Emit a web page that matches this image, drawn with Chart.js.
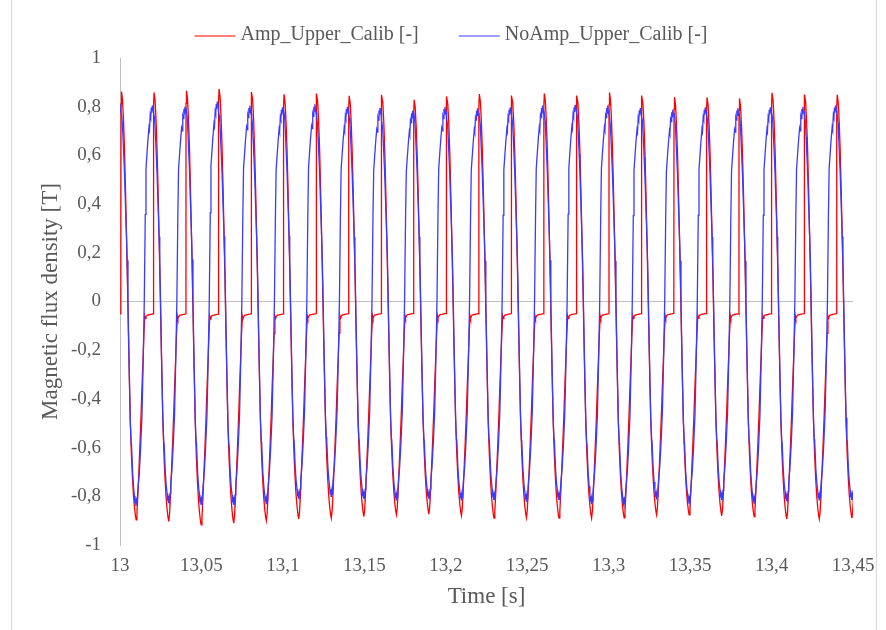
<!DOCTYPE html>
<html>
<head>
<meta charset="utf-8">
<title>Magnetic flux density</title>
<script src="https://cdn.jsdelivr.net/npm/chart.js@4.4.1/dist/chart.umd.min.js"></script>
<style>
  html, body { margin: 0; padding: 0; background: #ffffff; }
  #wrap { width: 886px; height: 630px; }
</style>
</head>
<body>
<div id="wrap"><canvas id="fluxChart" width="886" height="630"></canvas></div>
<script>
// switch-on instant of each 50 Hz cycle (s)
const cycleStart = [13.0006, 13.0206, 13.0405, 13.0605, 13.0805, 13.1004, 13.1204, 13.1404,
  13.1604, 13.1803, 13.2003, 13.2203, 13.2402, 13.2602, 13.2802, 13.3002, 13.3201, 13.3401,
  13.3601, 13.3800, 13.4000, 13.4200, 13.4400];

// peak / trough reached in each cycle (T)
const ampPeak = [0.862, 0.858, 0.865, 0.873, 0.860, 0.851, 0.854, 0.845, 0.849, 0.828, 0.842, 0.852,
  0.846, 0.854, 0.846, 0.858, 0.846, 0.839, 0.838, 0.834, 0.857, 0.850, 0.849];
const ampTrough = [-0.897, -0.903, -0.917, -0.910, -0.900, -0.893, -0.890, -0.883, -0.876, -0.873, -0.880, -0.890,
  -0.888, -0.890, -0.890, -0.888, -0.876, -0.876, -0.880, -0.883, -0.893, -0.893, -0.890];
const noAmpPeak = [0.805, 0.800, 0.821, 0.805, 0.797, 0.810, 0.800, 0.794, 0.783, 0.800, 0.794, 0.797,
  0.805, 0.808, 0.805, 0.794, 0.787, 0.797, 0.794, 0.797, 0.800, 0.805, 0.800];
const noAmpTrough = [-0.840, -0.828, -0.835, -0.835, -0.830, -0.810, -0.800, -0.810, -0.815, -0.810, -0.815, -0.815,
  -0.820, -0.815, -0.830, -0.835, -0.810, -0.830, -0.815, -0.830, -0.820, -0.815, -0.815];

// one cycle of each trace: time after switch-on (ms) and value (T)
const ampShapeMs = [0, 0.02, 0.31, 0.92, 1.53, 2.15, 2.76, 3.38, 3.99, 4.60, 5.22, 5.83, 6.45, 7.06, 7.67,
  8.29, 8.90, 9.33, 9.82, 10.44, 11.05, 11.66, 12.28, 12.89, 13.51, 14.12, 14.61, 14.92, 15.35, 15.96,
  17.19, 18.42, 19.89];
const ampShapeVal = [-0.050, 0.800, 0.850, 0.820, 0.740, 0.620, 0.460, 0.270, 0.070, -0.140, -0.340, -0.510,
  -0.630, -0.720, -0.790, -0.840, -0.875, -0.890, -0.860, -0.780, -0.680, -0.580, -0.470, -0.350, -0.240,
  -0.130, -0.060, -0.070, -0.062, -0.056, -0.054, -0.052, -0.050];

const noAmpShapeMs = [0, 0.37, 0.80, 1.23, 1.66, 2.15, 2.76, 3.38, 3.81, 4.30, 4.91, 5.71, 6.26, 6.51, 7.18,
  7.80, 8.29, 8.60, 8.90, 9.21, 9.51, 9.82, 10.13, 10.56, 11.23, 11.97, 12.89, 13.69, 14.30, 14.92, 15.35,
  15.96, 16.58, 17.19, 17.50, 17.93, 18.29, 18.60, 18.91, 19.22, 19.52, 19.89];
const noAmpShapeVal = [0.785, 0.770, 0.740, 0.680, 0.610, 0.530, 0.400, 0.270, 0.170, 0.000, -0.220, -0.480,
  -0.570, -0.580, -0.690, -0.750, -0.780, -0.810, -0.790, -0.820, -0.800, -0.810, -0.780, -0.740, -0.690,
  -0.600, -0.460, -0.220, 0.000, 0.360, 0.550, 0.610, 0.670, 0.720, 0.710, 0.770, 0.760, 0.800, 0.780,
  0.810, 0.790, 0.790];

// samples just before the first switch-on
const leadTime = [13.0, 13.0004];
const leadAmp = [-0.050, -0.050];
const leadNoAmp = [0.780, 0.810];

const seriesNames = ['Amp_Upper_Calib [-]', 'NoAmp_Upper_Calib [-]'];
const seriesColors = ['#ff0000', '#3b3bff'];

function buildTrace(shapeMs, shapeVal, peaks, troughs, leadVal) {
  const top = Math.max(...shapeVal);
  const bottom = Math.min(...shapeVal);
  const pts = leadTime.map((t, i) => ({ x: t, y: leadVal[i] }));
  cycleStart.forEach((t0, k) => {
    shapeMs.forEach((ms, j) => {
      const v = shapeVal[j];
      const y = v >= 0 ? v * peaks[k] / top : v * troughs[k] / bottom;
      pts.push({ x: t0 + ms / 1000, y: y });
    });
  });
  return pts.filter(p => p.x <= 13.4506);
}

const ampData = buildTrace(ampShapeMs, ampShapeVal, ampPeak, ampTrough, leadAmp);
const noAmpData = buildTrace(noAmpShapeMs, noAmpShapeVal, noAmpPeak, noAmpTrough, leadNoAmp);

const TEXT = '#595959';
const AXIS = '#bfbfbf';
Chart.defaults.font.family = '"Liberation Serif", "DejaVu Serif", serif';
Chart.defaults.color = TEXT;

const commaNum = v => String(Math.round(v * 100) / 100).replace('.', ',');

// outer frame + legend with line samples
const frameAndLegend = {
  id: 'frameAndLegend',
  beforeDraw(chart) {
    const c = chart.ctx;
    c.save();
    c.fillStyle = '#ffffff';
    c.fillRect(0, 0, chart.width, chart.height);
    c.strokeStyle = '#d9d9d9';
    c.lineWidth = 1;
    c.strokeRect(11.5, -2, 865, 640);
    c.restore();
  },
  afterDraw(chart) {
    const c = chart.ctx;
    const sample = 41, gap = 5, spacing = 40, y = 35;
    c.save();
    c.font = '20px "Liberation Serif"';
    c.textBaseline = 'middle';
    c.textAlign = 'left';
    const widths = seriesNames.map(t => c.measureText(t).width);
    let total = 0;
    widths.forEach((w, i) => { total += sample + gap + w + (i ? spacing : 0); });
    let x = 451 - total / 2;
    seriesNames.forEach((name, i) => {
      c.strokeStyle = seriesColors[i];
      c.lineWidth = 1.2;
      c.beginPath();
      c.moveTo(x, y + 1);
      c.lineTo(x + sample, y + 1);
      c.stroke();
      c.fillStyle = TEXT;
      c.fillText(name, x + sample + gap, y);
      x += sample + gap + widths[i] + spacing;
    });
    c.restore();
  }
};

new Chart(document.getElementById('fluxChart'), {
  type: 'line',
  data: {
    datasets: [
      {
        label: seriesNames[0],
        data: ampData,
        borderColor: seriesColors[0],
        borderWidth: 1.3,
        pointRadius: 0,
        tension: 0,
        order: 1
      },
      {
        label: seriesNames[1],
        data: noAmpData,
        borderColor: seriesColors[1],
        borderWidth: 1.3,
        pointRadius: 0,
        tension: 0,
        order: 0
      }
    ]
  },
  options: {
    responsive: false,
    animation: false,
    devicePixelRatio: 1,
    layout: { padding: { left: 12, right: 33, top: 58, bottom: 10 } },
    plugins: {
      legend: { display: false },
      tooltip: { enabled: false }
    },
    scales: {
      x: {
        type: 'linear',
        min: 13,
        max: 13.45,
        ticks: {
          stepSize: 0.05,
          padding: 10,
          color: TEXT,
          font: { size: 19 },
          maxRotation: 0,
          callback: v => commaNum(v)
        },
        grid: { display: false, drawTicks: false },
        border: { display: false },
        title: {
          display: true,
          text: 'Time [s]',
          color: TEXT,
          font: { size: 23 },
          padding: { top: 0, bottom: 9 }
        },
        afterFit: s => { s.height = 75; }
      },
      y: {
        min: -1,
        max: 1,
        ticks: {
          stepSize: 0.2,
          padding: 19,
          color: TEXT,
          font: { size: 19 },
          callback: v => commaNum(v)
        },
        grid: {
          drawTicks: false,
          color: c => (Math.abs(c.tick.value) < 1e-9 ? AXIS : 'rgba(0,0,0,0)')
        },
        border: { display: true, color: AXIS },
        title: {
          display: true,
          text: 'Magnetic flux density [T]',
          color: TEXT,
          font: { size: 23 },
          padding: { top: 25, bottom: 0 }
        },
        afterFit: s => { s.width = 108; }
      }
    }
  },
  plugins: [frameAndLegend]
});
</script>
</body>
</html>
